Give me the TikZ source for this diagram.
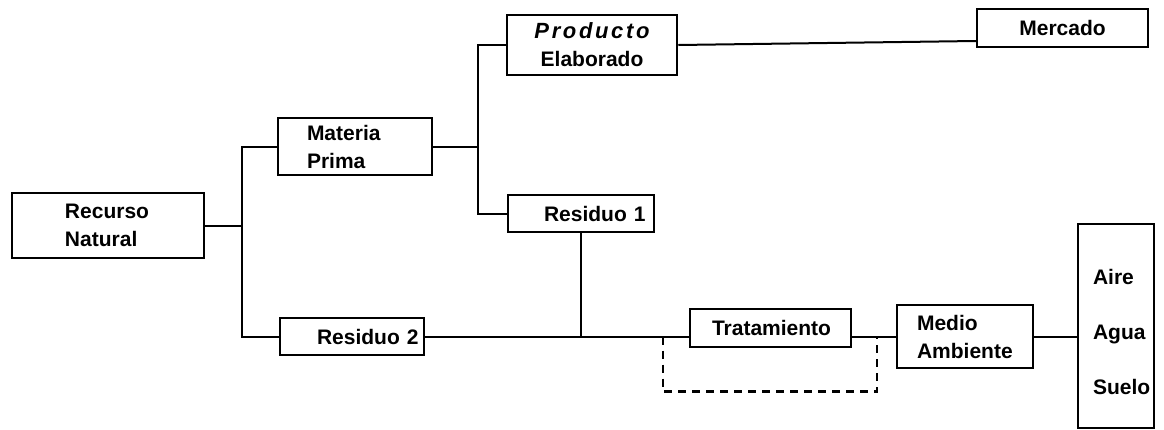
\documentclass[tikz,border=0pt]{standalone}
\usepackage{fontspec}
\setmainfont{Liberation Sans}
\begin{document}
\begin{tikzpicture}[x=1pt,y=-1pt,
  bx/.style n args={2}{draw, line width=2.5pt, inner xsep=0pt, inner ysep=0pt,
    text width=#1, minimum height=#2, align=left,
    font=\fontsize{21}{28}\selectfont\bfseries},
  link/.style={line width=2pt},
  bypass/.style={line width=2.5pt, dash pattern=on 8pt off 6pt}]
\useasboundingbox (0,0) rectangle (1164,429);
\node[bx={192pt}{65pt}] (rn) at (108,225.5) {\hspace*{53pt}Recurso\\\hspace*{53pt}Natural};
\node[bx={154pt}{57pt}] (mp) at (355,146.5) {\hspace*{29pt}Materia\\\hspace*{29pt}Prima};
\node[bx={170pt}{60pt}, align=center] (pe) at (592,45) {{\fontsize{22}{28}\selectfont\itshape\addfontfeature{LetterSpace=12}Producto}\\Elaborado};
\node[bx={171pt}{38pt}, align=center] (me) at (1062.5,28) {Mercado};
\node[bx={146pt}{37pt}] (r1) at (581,213.5) {\hspace*{36pt}Residuo 1};
\node[bx={144pt}{37pt}] (r2) at (352,336.5) {\hspace*{37pt}Residuo 2};
\node[bx={161pt}{38pt}] (tr) at (770.5,328) {\hspace*{22pt}Tratamiento};
\node[bx={136pt}{63pt}] (md) at (965,336.5) {\hspace*{20pt}Medio\\\hspace*{20pt}Ambiente};
\node[bx={76pt}{204pt}] (ai) at (1116,326) {\rule{0pt}{28pt}\hspace*{15pt}Aire\\[27pt]\hspace*{15pt}Agua\\[27pt]\hspace*{15pt}Suelo};
\coordinate (j1) at (242,225.5);
\coordinate (j2) at (478,146.5);
\coordinate (d1) at (663,336.5);
\coordinate (d2) at (877,336.5);
\draw[link] (rn.east) -- (j1);
\draw[link] (mp.west) -- (mp.west -| j1) -- (r2.west -| j1) -- (r2.west);
\draw[link] (mp.east) -- (j2);
\draw[link] (pe.west) -- (pe.west -| j2) -- (r1.west -| j2) -- (r1.west);
\draw[link] (pe.east) -- ([yshift=-13pt]me.west);
\draw[link] (r1.south) -- (r1.south |- r2.east);
\draw[link] (r2.east) -- (r2.east -| tr.west);
\draw[link] (md.west) -- (md.west -| tr.east);
\draw[link] (md.east) -- (md.east -| ai.west);
\draw[bypass] (d1) -- ++(0,55) -| (d2);
\end{tikzpicture}
\end{document}
